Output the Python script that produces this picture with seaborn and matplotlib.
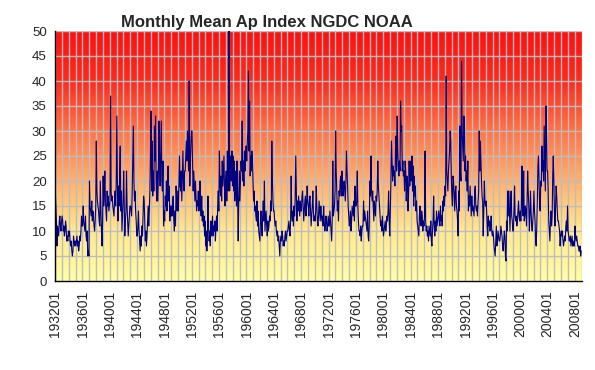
import numpy as np
import pandas as pd
import matplotlib
matplotlib.use("Agg")
import matplotlib.pyplot as plt
from matplotlib.colors import LinearSegmentedColormap
import seaborn as sns

# Monthly mean Ap, one list per decade (Jan..Dec per year)
ap_1930s = [
    18, 15, 12, 7, 11, 10, 9, 12, 13, 11, 10, 12,
    13, 12, 10, 11, 9, 10, 12, 11, 8, 9, 8, 10,
    9, 10, 8, 7, 8, 6, 5, 6, 9, 8, 7, 8,
    7, 8, 9, 7, 8, 6, 7, 9, 8, 10, 13, 11,
    11, 15, 12, 11, 10, 13, 9, 8, 10, 5, 6, 5,
    20, 15, 14, 13, 16, 12, 14, 13, 11, 10, 12, 15,
    28, 18, 16, 15, 14, 12, 11, 20, 15, 10, 7, 12,
    21, 15, 18, 22, 16, 14, 12, 18, 15, 17, 14, 15,
]
ap_1940s = [
    16, 37, 18, 16, 17, 15, 14, 13, 16, 18, 15, 20,
    33, 20, 12, 19, 15, 22, 27, 14, 18, 10, 13, 16,
    22, 16, 9, 12, 14, 22, 15, 12, 9, 11, 13, 15,
    15, 14, 13, 18, 24, 31, 20, 16, 18, 14, 12, 9,
    9, 11, 14, 10, 8, 6, 9, 7, 11, 9, 13, 17,
    16, 12, 8, 10, 7, 9, 12, 15, 11, 14, 18, 25,
    34, 18, 28, 17, 22, 18, 31, 24, 33, 20, 16, 22,
    16, 22, 32, 24, 19, 26, 32, 20, 18, 24, 11, 14,
    12, 17, 15, 20, 14, 18, 23, 16, 19, 12, 15, 13,
    15, 13, 16, 17, 12, 10, 14, 11, 19, 16, 14, 18,
]
ap_1950s = [
    14, 20, 25, 19, 18, 22, 16, 21, 26, 20, 18, 22,
    22, 25, 28, 24, 30, 26, 22, 40, 19, 24, 27, 30,
    30, 23, 18, 22, 19, 16, 20, 17, 14, 16, 15, 18,
    14, 16, 20, 15, 13, 17, 12, 14, 11, 13, 9, 12,
    7, 10, 6, 9, 17, 11, 8, 10, 7, 12, 9, 11,
    13, 9, 11, 10, 12, 8, 11, 13, 10, 15, 18, 14,
    26, 20, 17, 21, 16, 24, 19, 22, 25, 18, 15, 20,
    22, 16, 26, 18, 20, 50, 18, 24, 25, 20, 26, 19,
    25, 18, 24, 16, 20, 22, 15, 24, 17, 8, 16, 22,
    16, 20, 24, 22, 32, 20, 24, 19, 26, 22, 25, 27,
]
ap_1960s = [
    24, 28, 30, 42, 26, 36, 21, 25, 22, 26, 24, 20,
    16, 18, 14, 15, 13, 12, 16, 11, 14, 10, 9, 8,
    12, 14, 11, 9, 13, 16, 12, 20, 10, 12, 14, 11,
    9, 12, 10, 11, 13, 12, 16, 14, 28, 20, 16, 14,
    14, 12, 11, 12, 10, 9, 10, 8, 9, 7, 5, 8,
    9, 8, 10, 9, 7, 8, 7, 9, 10, 8, 9, 10,
    10, 11, 12, 10, 9, 12, 21, 13, 12, 14, 11, 15,
    13, 16, 25, 18, 12, 16, 14, 17, 15, 13, 16, 14,
    14, 17, 18, 15, 12, 14, 16, 17, 13, 15, 19, 16,
    15, 13, 16, 17, 14, 11, 13, 15, 18, 14, 12, 13,
]
ap_1970s = [
    12, 14, 19, 15, 12, 11, 13, 16, 14, 12, 15, 13,
    12, 13, 11, 15, 12, 10, 11, 13, 12, 10, 11, 13,
    11, 11, 14, 12, 10, 8, 12, 24, 13, 14, 15, 18,
    30, 22, 18, 14, 16, 12, 18, 17, 20, 21, 17, 22,
    20, 17, 19, 20, 18, 16, 20, 26, 22, 19, 15, 13,
    11, 12, 14, 10, 12, 15, 14, 13, 16, 12, 19, 15,
    15, 16, 22, 15, 12, 10, 10, 9, 11, 8, 10, 11,
    11, 16, 12, 14, 13, 12, 11, 10, 14, 9, 8, 11,
    20, 17, 25, 18, 16, 18, 15, 12, 16, 14, 13, 17,
    16, 18, 24, 19, 17, 15, 13, 11, 12, 10, 13, 11,
]
ap_1980s = [
    9, 10, 11, 12, 10, 11, 13, 12, 14, 18, 12, 9,
    14, 20, 28, 24, 20, 23, 21, 22, 19, 26, 29, 22,
    33, 26, 23, 21, 24, 22, 36, 30, 31, 22, 24, 21,
    22, 18, 24, 22, 16, 21, 20, 14, 17, 24, 19, 21,
    24, 20, 25, 18, 23, 15, 21, 17, 19, 14, 16, 12,
    11, 10, 9, 13, 15, 12, 11, 14, 13, 10, 12, 11,
    13, 26, 12, 10, 11, 9, 10, 8, 11, 10, 9, 12,
    8, 7, 10, 12, 17, 11, 9, 12, 10, 14, 11, 12,
    13, 14, 12, 11, 15, 12, 13, 11, 16, 14, 17, 15,
    19, 17, 41, 22, 20, 18, 22, 24, 26, 30, 28, 21,
]
ap_1990s = [
    17, 15, 21, 20, 17, 14, 18, 19, 15, 14, 12, 9,
    18, 14, 31, 22, 20, 44, 30, 27, 24, 33, 32, 22,
    25, 20, 22, 18, 24, 14, 17, 15, 19, 16, 13, 17,
    14, 15, 14, 13, 18, 19, 15, 14, 15, 13, 16, 18,
    30, 22, 28, 24, 20, 17, 16, 9, 14, 20, 16, 15,
    16, 14, 11, 9, 13, 11, 12, 10, 11, 13, 10, 9,
    10, 9, 7, 6, 5, 8, 11, 7, 8, 10, 9, 8,
    8, 9, 11, 10, 9, 7, 6, 8, 10, 9, 5, 4,
    12, 10, 18, 13, 18, 14, 10, 15, 18, 13, 12, 10,
    10, 14, 19, 13, 12, 13, 11, 12, 14, 16, 13, 12,
]
ap_2000s = [
    14, 12, 15, 23, 16, 13, 22, 12, 13, 15, 14, 11,
    16, 22, 18, 15, 10, 13, 18, 14, 11, 10, 12, 14,
    18, 14, 12, 8, 7, 11, 16, 23, 25, 20, 15, 14,
    20, 19, 27, 22, 24, 20, 31, 24, 18, 35, 30, 22,
    22, 18, 12, 10, 8, 12, 14, 11, 13, 21, 25, 19,
    14, 11, 15, 19, 17, 14, 12, 12, 11, 10, 7, 9,
    10, 9, 10, 8, 7, 8, 9, 8, 11, 12, 10, 15,
    10, 9, 8, 8, 9, 7, 8, 9, 7, 7, 8, 7,
    11, 9, 8, 9, 8, 7, 7, 6, 6, 7, 5, 6,
]

start_year = 1932
label_years = list(range(1932, 2009, 4))
tick_labels = [f"{y}01" for y in label_years]
y_ticks = list(range(0, 51, 5))
title = "Monthly Mean Ap Index NGDC NOAA"

values = ap_1930s + ap_1940s + ap_1950s + ap_1960s + ap_1970s + ap_1980s + ap_1990s + ap_2000s
n = len(values)
df = pd.DataFrame({"month": np.arange(n), "ap": values})

sns.set_style("white")
plt.rcParams["font.family"] = ["Liberation Sans", "DejaVu Sans"]

fig = plt.figure(figsize=(5.95, 3.70), dpi=100)
ax = fig.add_axes([55 / 595, 89 / 370, (581.5 - 55) / 595, 250 / 370])

xmin, xmax = -0.5, n - 0.5
# gradient background
cmap = LinearSegmentedColormap.from_list(
    "bg", ["#FFFFA6", "#FFE890", "#FFB070", "#FF7448", "#FF2A1E", "#FF1010"])
grad = np.linspace(0, 1, 256).reshape(-1, 1)
ax.imshow(grad, extent=[xmin, xmax, 0, 50], origin="lower", aspect="auto",
          cmap=cmap, zorder=0, interpolation="bilinear")

# grid
for m in range(0, n + 1, 12):
    ax.axvline(m - 0.5, color="#BDBDBD", lw=1.0, zorder=1)
for yv in y_ticks[1:]:
    ax.axhline(yv, color="#BDBDBD", lw=1.0, zorder=1)

sns.lineplot(data=df, x="month", y="ap", ax=ax, color="#000080", lw=0.8, zorder=3)

ax.set_xlim(xmin, xmax)
ax.set_ylim(0, 50)
ax.set_yticks(y_ticks)
ax.set_yticklabels([str(v) for v in y_ticks], fontsize=9.5)
ax.set_xticks([(y - start_year) * 12 for y in label_years])
ax.set_xticklabels(tick_labels, rotation=90, fontsize=10)
ax.set_xticks([m - 0.5 for m in range(0, n + 1, 12)], minor=True)
ax.tick_params(axis="x", which="major", length=0, pad=7)
ax.tick_params(axis="x", which="minor", length=5, width=1, color="black", direction="out")
ax.tick_params(axis="y", length=4, width=1, color="black", direction="out", pad=2)
ax.set_xlabel("")
ax.set_ylabel("")
for s in ["top", "right"]:
    ax.spines[s].set_visible(False)
for s in ["left", "bottom"]:
    ax.spines[s].set_color("black")
    ax.spines[s].set_linewidth(1)
    ax.spines[s].set_zorder(4)

fig.text(267 / 595, 1 - 22 / 370, title, ha="center", va="center",
         fontsize=12, fontweight="bold")

fig.savefig("out.png", dpi=100, facecolor="white")
